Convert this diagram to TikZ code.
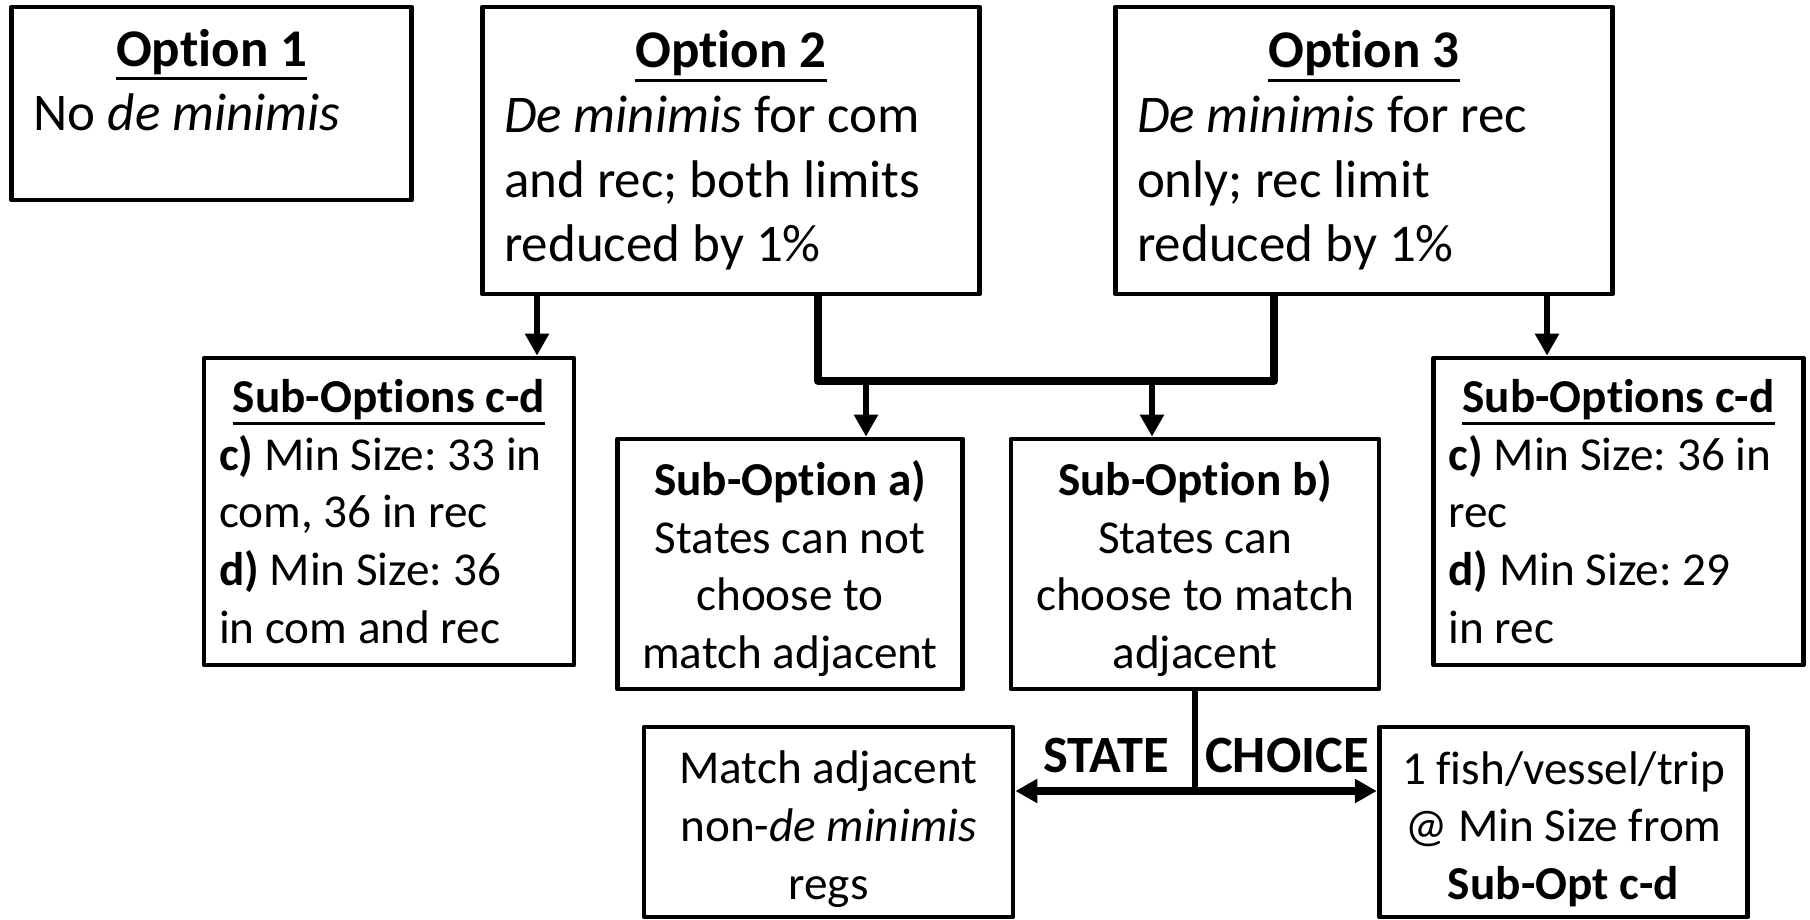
\documentclass[tikz,border=0pt]{standalone}
\usepackage{fontspec}
\setmainfont{Carlito}[Ligatures=NoCommon]
\usetikzlibrary{arrows.meta}
\frenchspacing
\newsavebox\ulnbox
\newcommand\uln[1]{\sbox\ulnbox{#1}\leavevmode\rlap{\vrule width\wd\ulnbox height -0.2em depth 0.26em}\usebox\ulnbox}
\newcommand\boxtitle[1]{\spaceskip=0pt\xspaceskip=0pt{\centering\bfseries\uln{#1}\par}}
\newcommand\topgap[1]{\rule{0pt}{#1}}
\tikzset{
  bigbox/.style={draw, line width=2.4pt, line join=round, inner sep=0pt, font=\fontsize{26.5}{32.3}\selectfont\frenchspacing},
  smallbox/.style={draw, line width=2.4pt, line join=round, inner sep=0pt, font=\fontsize{23.6}{28.85}\selectfont\frenchspacing},
  conn/.style={line width=4pt, line join=round},
  thinconn/.style={line width=3.3pt},
  arr/.style={line width=3.3pt, -{Triangle[width=11.5pt,length=11pt]}},
  arrb/.style={line width=3.8pt, -{Triangle[width=11.5pt,length=11pt]}},
  lbl/.style={font=\fontsize{26.2}{30}\selectfont\bfseries, inner sep=0pt},
}
\begin{document}
\begin{tikzpicture}[x=0.5pt,y=-0.5pt]
\useasboundingbox (0,0) rectangle (1810,920);
% top row
\node[bigbox, minimum width=200pt, minimum height=96.5pt, text width=178pt, align=left] (o1) at (211.75,103.5)
  {\boxtitle{Option 1}No \textit{de minimis}\rule[-23.6pt]{0pt}{0pt}};
\node[bigbox, minimum width=248.75pt, minimum height=143.5pt, text width=227pt, align=left] (o2) at (731,150.5)
  {\boxtitle{Option 2}\textit{De minimis} for com\\and rec; both limits\\reduced by 1\%};
\node[bigbox, minimum width=248.75pt, minimum height=143.5pt, text width=227pt, align=left] (o3) at (1364,150.5)
  {\boxtitle{Option 3}\textit{De minimis} for rec\\only; rec limit\\reduced by 1\%};
% middle row
\node[smallbox, minimum width=185pt, minimum height=153.5pt, text width=170pt, align=left] (sl) at (389,511.5)
  {\boxtitle{Sub-Options c-d}\textbf{c)} Min Size: 33 in\\com, 36 in rec\\\textbf{d)} Min Size: 36\\in com and rec};
\node[smallbox, minimum width=172.75pt, minimum height=125pt, align=center] (sa) at (790,564)
  {\topgap{22pt}\textbf{Sub-Option a)}\\States can not\\choose to\\match adjacent};
\node[smallbox, minimum width=184pt, minimum height=125pt, align=center] (sb) at (1195,564)
  {\topgap{22pt}\textbf{Sub-Option b)}\\States can\\choose to match\\adjacent};
\node[smallbox, minimum width=184.75pt, minimum height=153.5pt, text width=170pt, align=left] (sr) at (1618.5,511.5)
  {\boxtitle{Sub-Options c-d}\textbf{c)} Min Size: 36 in\\rec\\\textbf{d)} Min Size: 29\\in rec};
% bottom row
\node[smallbox, minimum width=184.5pt, minimum height=95pt, align=center] (ma) at (828.5,822)
  {\topgap{23.5pt}Match adjacent\\non-\textit{de minimis}\\regs};
\node[smallbox, minimum width=184.3pt, minimum height=95pt, align=center] (fi) at (1563.5,822)
  {\topgap{23.5pt}1 fish/vessel/trip\\@ Min Size from\\\textbf{Sub-Opt c-d}};
\node[lbl] (st) at (1106,755) {STATE};
\node[lbl] (ch) at (1287,755) {CHOICE};
% connectors
\coordinate (xa) at (537,0);
\coordinate (xb) at (818,381);
\coordinate (xc) at (1274,381);
\coordinate (xd) at (866,381);
\coordinate (xe) at (1152,381);
\coordinate (xf) at (1547,0);
\coordinate (jn) at (1195,791);
\draw[arr] (xa |- o2.south) -- (xa |- sl.north);
\draw[conn] (xb |- o2.south) -- (xb) -- (xc) -- (xc |- o3.south);
\draw[arr] (xd) -- (xd |- sa.north);
\draw[arr] (xe) -- (xe |- sb.north);
\draw[arr] (xf |- o3.south) -- (xf |- sr.north);
\draw[thinconn] (sb.south) -- (jn);
\draw[arrb] (jn) -- (jn -| ma.east);
\draw[arrb] (jn) -- (jn -| fi.west);
\end{tikzpicture}
\end{document}
